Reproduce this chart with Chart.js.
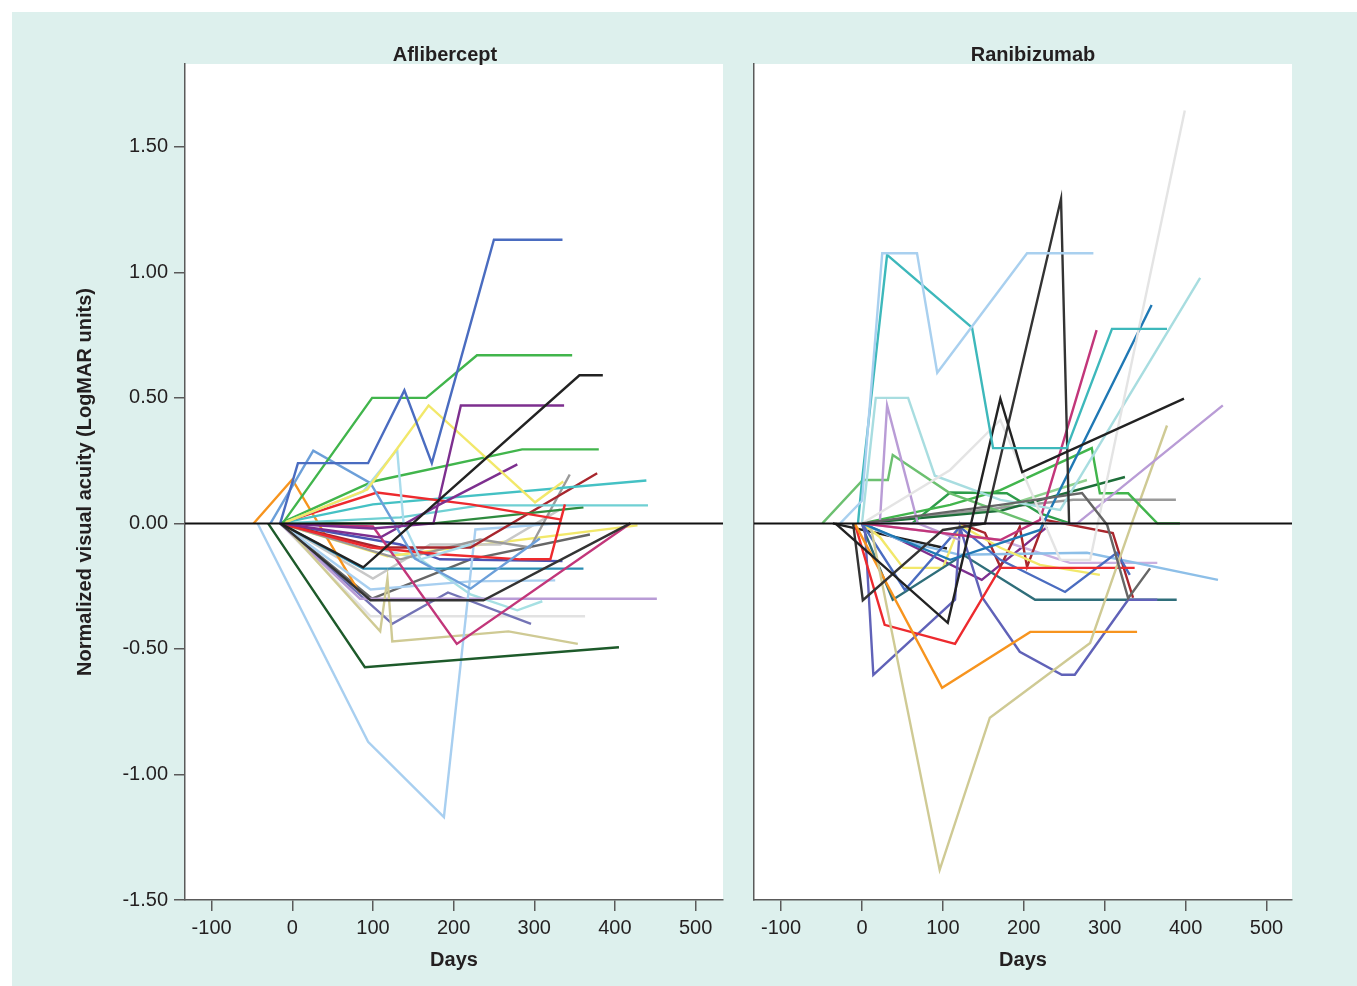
<!DOCTYPE html>
<html>
<head>
<meta charset="utf-8">
<script src="https://cdn.jsdelivr.net/npm/chart.js@4.4.1/dist/chart.umd.min.js"></script>
<style>
  html, body { margin: 0; padding: 0; background: #ffffff; }
  #bg { position: absolute; left: 12px; top: 12px; width: 1345px; height: 974px; background: #ddf0ed; }
  canvas { position: absolute; top: 0; }
  #left { left: 0; }
  #right { left: 740px; }
</style>
</head>
<body>
<div id="bg"></div>
<canvas id="left" width="740" height="986"></canvas>
<canvas id="right" width="617" height="986"></canvas>
<script>
// ---------------- DATA ----------------
const panelTitles = ["Aflibercept", "Ranibizumab"];
const xTickValues = [-100, 0, 100, 200, 300, 400, 500];
const yTickValues = [-1.5, -1.0, -0.5, 0.0, 0.5, 1.0, 1.5];
const xAxisTitle = "Days";
const yAxisTitle = "Normalized visual acuity (LogMAR units)";

// Aflibercept patients: days / normalized LogMAR values
const afl01Days = [-15, 7, 94, 139, 173, 250, 335];
const afl01Vals = [0, 0.24, 0.24, 0.53, 0.24, 1.13, 1.13];
const afl02Days = [-12, 99, 166, 229, 347];
const afl02Vals = [0, 0.50, 0.50, 0.67, 0.67];
const afl03Days = [-15, 88, 356, 385];
const afl03Vals = [0, -0.175, 0.59, 0.59];
const afl04Days = [-15, 99, 175, 209, 337];
const afl04Vals = [0, -0.02, 0, 0.47, 0.47];
const afl05Days = [-12, 93, 169, 301, 336];
const afl05Vals = [0, 0.135, 0.47, 0.084, 0.167];
const afl06Days = [-12, 88, 130, 138, 159, 221];
const afl06Vals = [0, 0.127, 0.294, 0, -0.143, -0.084];
const afl07Days = [-27, 26, 97, 152, 221, 307];
const afl07Vals = [0, 0.29, 0.16, -0.14, -0.26, -0.06];
const afl08Days = [-15, 100, 285, 380];
const afl08Vals = [0, 0.167, 0.295, 0.295];
const afl09Days = [-15, 109, 183, 279];
const afl09Vals = [0, -0.056, 0.076, 0.235];
const afl10Days = [-15, 105, 221, 332];
const afl10Vals = [0, 0.123, 0.076, 0.016];
const afl11Days = [-15, 97, 183, 283, 320, 338];
const afl11Vals = [0, -0.096, -0.123, -0.143, -0.143, 0.076];
const afl12Days = [-15, 100, 439];
const afl12Vals = [0, 0.076, 0.171];
const afl13Days = [-12, 134, 233, 441];
const afl13Vals = [0, 0.024, 0.072, 0.072];
const afl14Days = [-15, 175, 361];
const afl14Vals = [0, 0, 0.064];
const afl15Days = [-15, 109, 221, 378];
const afl15Vals = [0, -0.096, -0.096, 0.2];
const afl16Days = [-15, 134, 233, 295, 344];
const afl16Vals = [0, -0.143, -0.064, -0.096, 0.195];
const afl17Days = [-15, 97, 237, 419];
const afl17Vals = [0, -0.306, -0.306, 0];
const afl18Days = [-15, 100, 204, 419];
const afl18Vals = [0, -0.012, -0.48, 0];
const afl19Days = [-30, 90, 405];
const afl19Vals = [0, -0.573, -0.493];
const afl20Days = [-43, 94, 188, 227, 332];
const afl20Vals = [0, -0.87, -1.17, -0.024, 0];
const afl21Days = [-12, 109, 118, 124, 268, 354];
const afl21Vals = [0, -0.43, -0.22, -0.47, -0.43, -0.48];
const afl22Days = [-15, 84, 452];
const afl22Vals = [0, -0.30, -0.30];
const afl23Days = [-15, 97, 221, 326];
const afl23Vals = [0, -0.263, -0.231, -0.227];
const afl24Days = [-15, 124, 193, 296];
const afl24Vals = [0, -0.40, -0.275, -0.40];
const afl25Days = [-15, 97, 363];
const afl25Vals = [0, -0.37, -0.37];
const afl26Days = [-15, 88, 361];
const afl26Vals = [0, -0.18, -0.18];
const afl27Days = [-15, 134, 183, 335];
const afl27Vals = [0, -0.084, -0.143, -0.15];
const afl28Days = [-48, 0, 84];
const afl28Vals = [0, 0.175, -0.28];
const afl29Days = [-15, 99, 221, 369];
const afl29Vals = [0, -0.30, -0.143, -0.044];
const afl30Days = [-15, 100, 171, 258, 332];
const afl30Vals = [0, -0.22, -0.084, -0.084, 0.056];
const afl31Days = [-15, 118, 428];
const afl31Vals = [0, -0.131, -0.008];
const afl32Days = [-15, 159, 221, 279, 310];
const afl32Vals = [0, -0.143, -0.283, -0.346, -0.31];

// Ranibizumab patients
const ran01Days = [-27, 0, 25, 68, 93, 204, 286];
const ran01Vals = [0, 0.09, 1.076, 1.076, 0.60, 1.076, 1.076];
const ran02Days = [-5, 0, 31, 136, 162, 253, 309, 377];
const ran02Vals = [0, 0.17, 1.07, 0.78, 0.30, 0.30, 0.775, 0.775];
const ran03Days = [-33, 106, 171, 198, 398];
const ran03Vals = [0, -0.396, 0.497, 0.204, 0.497];
const ran04Days = [-11, 1, 100, 152, 246, 256];
const ran04Vals = [0, -0.306, -0.026, 0, 1.293, 0];
const ran05Days = [0, 171, 272, 303, 329, 356];
const ran05Vals = [0, 0.074, 0.121, -0.006, -0.298, -0.179];
const ran06Days = [0, 109, 171, 245, 282, 399];
const ran06Vals = [0, 0.213, 0.412, -0.145, -0.145, 1.645];
const ran07Days = [0, 17, 57, 90, 171, 245, 418];
const ran07Vals = [0, 0.5, 0.5, 0.19, 0.094, 0.054, 0.978];
const ran08Days = [0, 171, 220, 290];
const ran08Vals = [0, -0.066, 0.014, 0.77];
const ran09Days = [0, 109, 220, 358];
const ran09Vals = [0, -0.145, -0.026, 0.87];
const ran10Days = [0, 266, 446];
const ran10Vals = [0, 0, 0.47];
const ran11Days = [22, 31, 69, 121];
const ran11Vals = [0, 0.47, 0, -0.066];
const ran12Days = [-49, 1, 32, 38, 109, 211];
const ran12Vals = [0, 0.173, 0.173, 0.273, 0.12, 0];
const ran13Days = [0, 109, 171, 284, 294, 329, 365, 393];
const ran13Vals = [0, 0.074, 0.133, 0.30, 0.12, 0.12, 0, 0];
const ran14Days = [62, 109, 179, 220, 257];
const ran14Vals = [0, 0.123, 0.12, 0.04, 0];
const ran15Days = [0, 171, 325];
const ran15Vals = [0, 0.05, 0.185];
const ran16Days = [0, 261, 388];
const ran16Vals = [0, 0.094, 0.094];
const ran17Days = [10, 96, 158, 282, 335, 377];
const ran17Vals = [0, -1.38, -0.774, -0.476, 0.014, 0.39];
const ran18Days = [-9, 99, 208, 340];
const ran18Vals = [0, -0.655, -0.432, -0.432];
const ran19Days = [-9, 28, 115, 171, 337];
const ran19Vals = [0, -0.404, -0.48, -0.177, -0.177];
const ran20Days = [0, 4, 14, 115, 121, 148, 195, 247, 263, 329, 365];
const ran20Vals = [0, -0.04, -0.603, -0.304, -0.014, -0.292, -0.511, -0.603, -0.603, -0.304, -0.304];
const ran21Days = [0, 53, 121, 171, 251, 315, 331];
const ran21Vals = [0, -0.265, -0.014, -0.145, -0.273, -0.117, -0.205];
const ran22Days = [0, 4, 38, 125, 214, 389];
const ran22Vals = [0, -0.04, -0.304, -0.125, -0.304, -0.304];
const ran23Days = [0, 22, 51, 100, 121, 171, 220, 294];
const ran23Vals = [0, -0.054, -0.177, -0.177, -0.006, -0.097, -0.165, -0.205];
const ran24Days = [0, 47, 121, 278, 440];
const ran24Vals = [0, -0.066, -0.125, -0.117, -0.225];
const ran25Days = [121, 152, 171, 195, 204, 226, 310, 335];
const ran25Vals = [0, -0.038, -0.173, -0.014, -0.173, 0.014, -0.038, -0.296];
const ran26Days = [0, 171, 257, 365];
const ran26Vals = [0, -0.066, -0.157, -0.157];
const ran27Days = [0, 47, 148, 229];
const ran27Vals = [0, -0.066, -0.225, -0.014];
const ran28Days = [0, 162, 278];
const ran28Vals = [0, 0.054, 0.173];
const ran29Days = [-36, 105];
const ran29Vals = [0, -0.1];

// ---------------- STYLES ----------------
const aflSeries = [
  [afl01Days, afl01Vals, "#4a6cc0"], [afl02Days, afl02Vals, "#41b54c"], [afl03Days, afl03Vals, "#222222"],
  [afl04Days, afl04Vals, "#7d2f8f"], [afl05Days, afl05Vals, "#f2e86a"], [afl06Days, afl06Vals, "#a9dcec"],
  [afl07Days, afl07Vals, "#6c9fd9"], [afl08Days, afl08Vals, "#41b54c"], [afl09Days, afl09Vals, "#7d2f8f"],
  [afl10Days, afl10Vals, "#ed2a2e"], [afl11Days, afl11Vals, "#ed2a2e"], [afl12Days, afl12Vals, "#44c1c4"],
  [afl13Days, afl13Vals, "#6fd0d3"], [afl14Days, afl14Vals, "#2e8b3e"], [afl15Days, afl15Vals, "#a8262d"],
  [afl16Days, afl16Vals, "#9a9a9a"], [afl17Days, afl17Vals, "#333333"], [afl18Days, afl18Vals, "#c2367a"],
  [afl19Days, afl19Vals, "#1d5a2a"], [afl20Days, afl20Vals, "#a8cff0"], [afl21Days, afl21Vals, "#cfca94"],
  [afl22Days, afl22Vals, "#b99cd6"], [afl23Days, afl23Vals, "#a8cff0"], [afl24Days, afl24Vals, "#7373b5"],
  [afl25Days, afl25Vals, "#e2e2e2"], [afl26Days, afl26Vals, "#2b8db3"], [afl27Days, afl27Vals, "#4b54b3"],
  [afl28Days, afl28Vals, "#f7941e"], [afl29Days, afl29Vals, "#666666"], [afl30Days, afl30Vals, "#c8c8c8"],
  [afl31Days, afl31Vals, "#f2e86a"], [afl32Days, afl32Vals, "#a6e0e3"]
];
const ranSeries = [
  [ran01Days, ran01Vals, "#a9d0ef"], [ran02Days, ran02Vals, "#3db8bb"], [ran03Days, ran03Vals, "#222222"],
  [ran04Days, ran04Vals, "#333333"], [ran05Days, ran05Vals, "#666666"], [ran06Days, ran06Vals, "#e4e4e4"],
  [ran07Days, ran07Vals, "#a8dde0"], [ran08Days, ran08Vals, "#c2367a"], [ran09Days, ran09Vals, "#1f78b4"],
  [ran10Days, ran10Vals, "#b99cd6"], [ran11Days, ran11Vals, "#b99cd6"], [ran12Days, ran12Vals, "#6cc070"],
  [ran13Days, ran13Vals, "#41b54c"], [ran14Days, ran14Vals, "#2e9d4a"], [ran15Days, ran15Vals, "#1e6e3a"],
  [ran16Days, ran16Vals, "#9a9a9a"], [ran17Days, ran17Vals, "#cfca94"], [ran18Days, ran18Vals, "#f7941e"],
  [ran19Days, ran19Vals, "#ed2a2e"], [ran20Days, ran20Vals, "#6062b8"], [ran21Days, ran21Vals, "#4a6cc0"],
  [ran22Days, ran22Vals, "#2f6e7a"], [ran23Days, ran23Vals, "#f2e86a"], [ran24Days, ran24Vals, "#8dbfe8"],
  [ran25Days, ran25Vals, "#a8262d"], [ran26Days, ran26Vals, "#c9b0e0"], [ran27Days, ran27Vals, "#7d2f8f"],
  [ran28Days, ran28Vals, "#8ed08e"], [ran29Days, ran29Vals, "#222222"]
];

const FONT = "'Liberation Sans', Arial, Helvetica, sans-serif";
const TXT = "#231f20";
const AXC = "#5a5a5a";

function toDatasets(list) {
  return list.map(([d, v, c]) => ({
    data: d.map((x, i) => ({ x: x, y: v[i] })),
    borderColor: c,
    borderWidth: 2.4,
    pointRadius: 0,
    tension: 0,
    fill: false
  }));
}

const panelPlugin = {
  id: "panelDecor",
  beforeDraw(chart, args, opts) {
    const { ctx, chartArea: a } = chart;
    ctx.save();
    ctx.fillStyle = "#ffffff";
    ctx.fillRect(a.left, a.top, a.right - a.left, a.bottom - a.top);
    ctx.restore();
  },
  afterDatasetsDraw(chart, args, opts) {
    const { ctx, chartArea: a, scales } = chart;
    const y0 = scales.y.getPixelForValue(0);
    ctx.save();
    ctx.strokeStyle = "#111111";
    ctx.lineWidth = 2;
    ctx.beginPath();
    ctx.moveTo(a.left, y0);
    ctx.lineTo(a.right, y0);
    ctx.stroke();
    ctx.restore();
  },
  afterDraw(chart, args, opts) {
    const { ctx, chartArea: a } = chart;
    ctx.save();
    ctx.fillStyle = TXT;
    ctx.font = "bold 20px " + FONT;
    ctx.textAlign = "center";
    ctx.textBaseline = "middle";
    ctx.fillText(opts.title, (a.left + a.right) / 2 + opts.dx, a.top - 9);
    ctx.restore();
  }
};

function makeChart(id, series, cfg) {
  return new Chart(document.getElementById(id), {
    type: "line",
    data: { datasets: toDatasets(series) },
    plugins: [panelPlugin],
    options: {
      responsive: false,
      animation: false,
      devicePixelRatio: 1,
      layout: { padding: { left: 0, right: cfg.padRight, top: 64, bottom: 0 } },
      plugins: {
        legend: { display: false },
        tooltip: { enabled: false },
        title: { display: false },
        panelDecor: { title: cfg.title, dx: cfg.dx }
      },
      scales: {
        x: {
          type: "linear",
          min: cfg.xmin, max: cfg.xmax,
          afterBuildTicks: s => { s.ticks = xTickValues.map(v => ({ value: v })); },
          afterFit: s => { s.height = 86; },
          ticks: { color: TXT, font: { family: FONT, size: 20 }, padding: 5, maxRotation: 0, autoSkip: false,
                   callback: v => String(v) },
          grid: { drawOnChartArea: false, drawTicks: true, tickLength: 11, color: AXC, lineWidth: 1.5 },
          border: { display: true, color: AXC, width: 1.5 },
          title: { display: true, text: xAxisTitle, color: TXT, font: { family: FONT, size: 20, weight: "bold" },
                   padding: { top: 0, bottom: 14 } }
        },
        y: {
          type: "linear",
          min: -1.5, max: 1.83,
          afterBuildTicks: s => { s.ticks = yTickValues.map(v => ({ value: v })); },
          afterFit: s => { s.width = cfg.yWidth; },
          ticks: { display: cfg.showY, color: TXT, font: { family: FONT, size: 20 }, padding: 6,
                   callback: v => v.toFixed(2) },
          grid: { drawOnChartArea: false, drawTicks: cfg.showY, tickLength: 11, color: AXC, lineWidth: 1.5 },
          border: { display: true, color: AXC, width: 1.5 },
          title: { display: cfg.showY, text: yAxisTitle, color: TXT, font: { family: FONT, size: 20, weight: "bold" },
                   padding: { top: 73, bottom: 0 } }
        }
      }
    }
  });
}

makeChart("left", aflSeries, { title: panelTitles[0], dx: -9, padRight: 17, yWidth: 185, showY: true, xmin: -133, xmax: 534 });
makeChart("right", ranSeries, { title: panelTitles[1], dx: 10, padRight: 65, yWidth: 14, showY: false, xmin: -133.5, xmax: 531.5 });
</script>
</body>
</html>
